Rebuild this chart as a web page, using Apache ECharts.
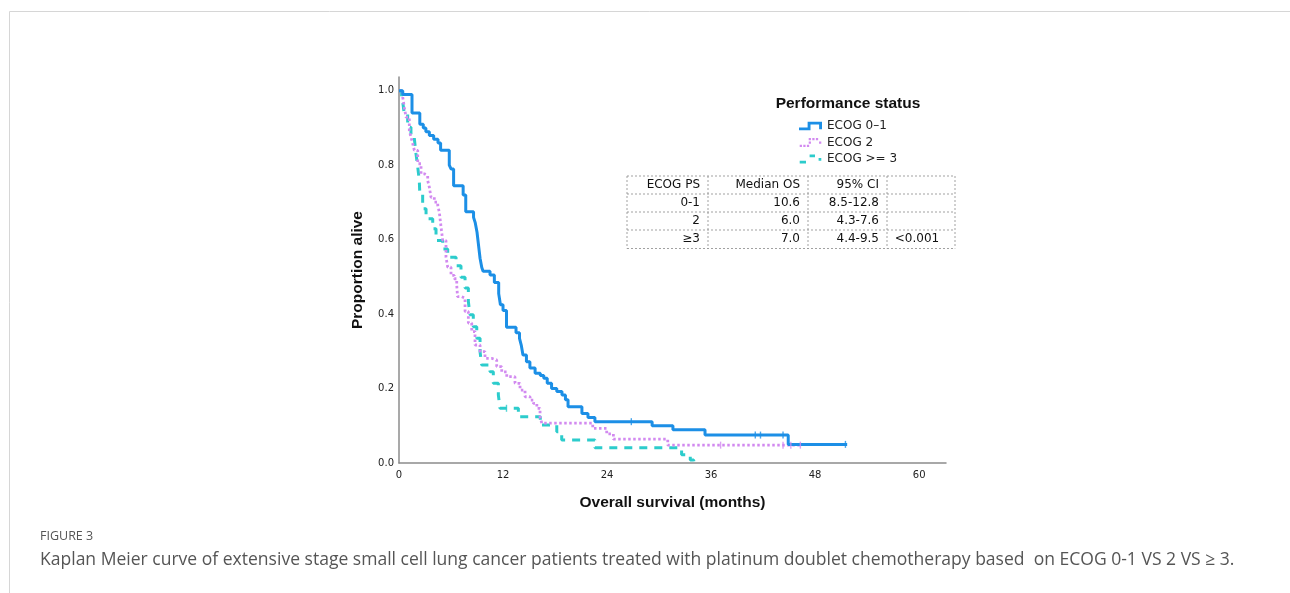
<!DOCTYPE html>
<html><head><meta charset="utf-8">
<script src="https://cdn.jsdelivr.net/npm/echarts@6/dist/echarts.min.js"></script>
<style>html,body{margin:0;padding:0;background:#fff}#c{width:1290px;height:593px}</style>
</head><body><div id="c"></div>
<script>
// ---------------- data ----------------
const seriesNames = ['ECOG 0\u20131', 'ECOG 2', 'ECOG >= 3'];
const xTicks = [0, 12, 24, 36, 48, 60];
const yTicks = [0, 0.2, 0.4, 0.6, 0.8, 1.0];

const ecog01 = [[0,1.0],[0.43,0.99],[1.5,0.94],[2.4,0.91],[2.8,0.90],[3.1,0.89],[3.5,0.88],[4.0,0.87],[4.5,0.86],[4.8,0.84],[5.8,0.80],[6.0,0.79],[6.3,0.745],[7.4,0.72],[7.7,0.675],[8.6,0.66],[8.8,0.645],[9.0,0.62],[9.2,0.58],[9.35,0.55],[9.55,0.525],[9.7,0.515],[10.5,0.505],[11.0,0.485],[11.5,0.455],[11.7,0.425],[12.0,0.41],[12.4,0.365],[13.5,0.35],[13.9,0.335],[14.1,0.317],[14.3,0.29],[14.7,0.272],[15.1,0.255],[15.7,0.241],[16.3,0.235],[16.7,0.228],[17.1,0.214],[17.6,0.2],[18.2,0.192],[18.8,0.183],[19.2,0.17],[19.5,0.151],[21.1,0.133],[21.8,0.122],[22.6,0.111],[29.2,0.10],[31.6,0.089],[35.3,0.075],[44.9,0.05],[51.7,0.05]];
const ecog2 = [[0,1.0],[0.43,0.983],[0.61,0.956],[0.81,0.929],[1.19,0.893],[1.38,0.876],[1.58,0.858],[1.77,0.84],[2.16,0.804],[2.54,0.777],[2.92,0.772],[3.31,0.759],[3.5,0.741],[3.69,0.714],[4.07,0.701],[4.47,0.692],[4.65,0.674],[4.85,0.634],[5.04,0.598],[5.42,0.553],[5.62,0.526],[6.0,0.504],[6.38,0.495],[6.66,0.478],[6.75,0.447],[7.23,0.443],[7.62,0.407],[8.0,0.376],[8.39,0.353],[8.77,0.317],[9.35,0.299],[9.92,0.281],[10.7,0.277],[11.27,0.259],[11.85,0.245],[12.43,0.232],[13.38,0.214],[13.96,0.196],[14.54,0.178],[15.12,0.169],[15.5,0.16],[15.9,0.147],[16.27,0.124],[16.47,0.107],[22.35,0.093],[23.96,0.078],[24.73,0.064],[31.0,0.048],[46.3,0.048]];
const ecog3 = [[0,1.0],[0.3,0.985],[0.43,0.97],[0.61,0.938],[1.0,0.902],[1.38,0.88],[1.77,0.871],[1.96,0.831],[2.16,0.795],[2.34,0.759],[2.4,0.723],[2.73,0.683],[3.12,0.656],[3.89,0.629],[4.27,0.598],[5.04,0.575],[5.62,0.553],[6.58,0.53],[7.15,0.499],[7.62,0.47],[8.0,0.434],[8.19,0.398],[8.57,0.366],[8.97,0.335],[9.35,0.299],[9.54,0.263],[10.5,0.245],[10.88,0.214],[11.46,0.183],[11.65,0.147],[13.77,0.124],[16.3,0.102],[18.2,0.084],[18.77,0.062],[22.6,0.041],[32.6,0.022],[33.6,0.008],[34.0,0]];

const ecog01Censored = [[26.8,0.111],[41.1,0.075],[41.7,0.075],[44.3,0.075],[51.5,0.05]];
const ecog2Censored = [[37.1,0.048],[44.3,0.048],[45.2,0.048],[46.3,0.048]];
const ecog3Censored = [[12.4,0.147]];

const legendTitle = 'Performance status';
const tableHeader = ['ECOG PS', 'Median OS', '95% CI', ''];
const tableRows = [
  ['0-1', '10.6', '8.5-12.8', ''],
  ['2', '6.0', '4.3-7.6', ''],
  ['\u22653', '7.0', '4.4-9.5', '<0.001']
];
const xAxisTitle = 'Overall survival (months)';
const yAxisTitle = 'Proportion alive';
const figureLabel = 'FIGURE 3';
const captionText = 'Kaplan Meier curve of extensive stage small cell lung cancer patients treated with platinum doublet chemotherapy based  on ECOG 0-1 VS 2 VS \u2265 3.';

// ---------------- styles / layout ----------------
const colors = ['#1c8fe6', '#d28af0', '#2ccccc'];
const lineTypes = ['solid', [2.5, 2.5], [8, 7]];
const lineWidths = [3, 2.8, 3];
const legendIcons = [
  'path://M0,6H9V0H24V8H21V3H12V9H0Z',
  'path://M0,7.5h2.5v2.5h-2.5z M4,7.5h2.5v2.5h-2.5z M8,7.5h2.5v2.5h-2.5z M10,3.8h2.5v2.5h-2.5z M10,0h2.5v2.5h-2.5z M14,0h2.5v2.5h-2.5z M18,0h2.5v2.5h-2.5z M21.5,3.8h2.5v2.5h-2.5z',
  'path://M0,7h7v3h-7z M11,0h6v3h-6z M21,4h3v3h-3z'
];
const tickFont = 'DejaVu Sans';
const titleFont = 'Liberation Sans';

const tableCols = [627, 708, 808, 887, 955];
const tableRowsY = [176, 194, 212, 230, 248.5];

const graphic = [];
// frame
graphic.push({type:'line', shape:{x1:9.5,y1:11.5,x2:1290,y2:11.5}, style:{stroke:'#d6d6d6', lineWidth:1}});
graphic.push({type:'line', shape:{x1:9.5,y1:11.5,x2:9.5,y2:593}, style:{stroke:'#d6d6d6', lineWidth:1}});
// legend title
graphic.push({type:'text', x:848, y:104, style:{text:legendTitle, font:'bold 15.5px "Liberation Sans"', fill:'#111', textAlign:'center', textVerticalAlign:'middle'}});
// table lines
tableRowsY.forEach(y => graphic.push({type:'line', shape:{x1:tableCols[0], y1:y, x2:tableCols[tableCols.length-1], y2:y}, style:{stroke:'#8a8a8a', lineWidth:0.8, lineDash:[2,2]}}));
tableCols.forEach(x => graphic.push({type:'line', shape:{x1:x, y1:tableRowsY[0], x2:x, y2:tableRowsY[tableRowsY.length-1]}, style:{stroke:'#8a8a8a', lineWidth:0.8, lineDash:[2,2]}}));
[tableHeader].concat(tableRows).forEach((row, r) => {
  const yc = (tableRowsY[r] + tableRowsY[r+1]) / 2;
  row.forEach((txt, c) => {
    if (!txt) return;
    const last = c === row.length - 1;
    graphic.push({type:'text', x: last ? (tableCols[c] + tableCols[c+1]) / 2 - 4 : tableCols[c+1] - 8, y: yc,
      style:{text:txt, font:'12px "DejaVu Sans"', fill:'#111', textAlign: last ? 'center' : 'right', textVerticalAlign:'middle'}});
  });
});
// caption
graphic.push({type:'text', x:40, y:536, style:{text:figureLabel, font:'12.5px "Open Sans"', fill:'#555', textVerticalAlign:'middle'}});
graphic.push({type:'text', x:40, y:560, style:{text:captionText, font:'17.55px "Open Sans"', fill:'#555', textVerticalAlign:'middle'}});

function isTick(v, list) { return list.some(t => Math.abs(t - v) < 1e-6); }

const lineSeries = [ecog01, ecog2, ecog3].map((d, i) => ({
  name: seriesNames[i], type: 'line', step: 'end', data: d, symbol: 'none', z: 3 - i + 2,
  lineStyle: {color: colors[i], width: lineWidths[i], type: lineTypes[i]},
  itemStyle: {color: colors[i]}, animation: false
}));
const censorSeries = [ecog01Censored, ecog2Censored, ecog3Censored].map((d, i) => ({
  name: 'censor' + i, type: 'scatter', data: d, symbol: 'rect', symbolSize: [1.4, 7],
  itemStyle: {color: colors[i]}, z: 6, animation: false, silent: true
}));

const chart = echarts.init(document.getElementById('c'));
chart.setOption({
  animation: false,
  backgroundColor: '#fff',
  grid: {left: 399, top: 77, width: 547, height: 386, containLabel: false},
  xAxis: {
    type: 'value', min: 0, max: 63.1, interval: 12,
    name: xAxisTitle, nameLocation: 'middle', nameGap: 32,
    nameTextStyle: {fontFamily: titleFont, fontWeight: 'bold', fontSize: 15.5, color: '#111'},
    axisLine: {show: true, lineStyle: {color: '#8c8c8c', width: 1.5}},
    axisTick: {show: false}, splitLine: {show: false},
    axisLabel: {margin: 7, fontFamily: tickFont, fontSize: 10, color: '#222',
      formatter: v => isTick(v, xTicks) ? String(v) : ''}
  },
  yAxis: {
    type: 'value', min: 0, max: 1.037, interval: 0.2,
    name: yAxisTitle, nameLocation: 'middle', nameGap: 33, nameRotate: 90,
    nameTextStyle: {fontFamily: titleFont, fontWeight: 'bold', fontSize: 15.5, color: '#111'},
    axisLine: {show: true, lineStyle: {color: '#8c8c8c', width: 1.5}},
    axisTick: {show: false}, splitLine: {show: false},
    axisLabel: {margin: 5, fontFamily: tickFont, fontSize: 10, color: '#222',
      formatter: v => isTick(v, yTicks) ? v.toFixed(1) : ''}
  },
  legend: {
    data: seriesNames.map((n, i) => ({name: n, icon: legendIcons[i]})),
    orient: 'vertical', left: 799, top: 120, padding: 0,
    itemWidth: 23, itemHeight: 9, itemGap: 4.5,
    textStyle: {fontFamily: tickFont, fontSize: 12, color: '#222'},
    selectedMode: false
  },
  graphic: graphic,
  series: lineSeries.concat(censorSeries)
});
</script></body></html>
